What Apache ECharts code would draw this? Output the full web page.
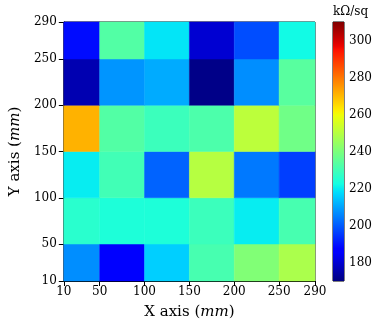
<!DOCTYPE html>
<html>
<head>
<meta charset="utf-8">
<script src="https://cdn.jsdelivr.net/npm/echarts@6/dist/echarts.min.js"></script>
<style>
  html, body { margin: 0; padding: 0; background: #fff; }
  #chart { width: 382px; height: 327px; }
</style>
</head>
<body>
<div id="chart"></div>
<script>
// cell edges (mm)
var xEdges = [10, 50, 100, 150, 200, 250, 290];
var yEdges = [10, 50, 100, 150, 200, 250, 290];
var xTicks = [10, 50, 100, 150, 200, 250, 290];
var yTicks = [10, 50, 100, 150, 200, 250, 290];
var cbarTicks = [180, 200, 220, 240, 260, 280, 300];
var vMin = 170;
var vMax = 310;

// sheet resistance, rows listed from bottom (y 10-50) to top (y 250-290)
var row10 = [207, 187, 216, 231, 241, 248];
var row50 = [226, 224, 224, 229, 220, 231];
var row100 = [220, 230, 201, 250, 204, 196];
var row150 = [271, 233, 229, 232, 251, 238];
var row200 = [176, 208, 211, 171, 207, 234];
var row250 = [189, 233, 219, 180, 198, 222];
var rows = [row10, row50, row100, row150, row200, row250];

// matplotlib jet
function seg(pts, t) {
  for (var i = 1; i < pts.length; i++) {
    if (t <= pts[i][0]) {
      var a = pts[i - 1], b = pts[i];
      return a[1] + (b[1] - a[1]) * (t - a[0]) / (b[0] - a[0]);
    }
  }
  return pts[pts.length - 1][1];
}
function jet(t) {
  var r = seg([[0, 0], [0.35, 0], [0.66, 1], [0.89, 1], [1, 0.5]], t);
  var g = seg([[0, 0], [0.125, 0], [0.375, 1], [0.64, 1], [0.91, 0], [1, 0]], t);
  var b = seg([[0, 0.5], [0.11, 1], [0.34, 1], [0.65, 0], [1, 0]], t);
  return 'rgb(' + Math.round(r * 255) + ',' + Math.round(g * 255) + ',' + Math.round(b * 255) + ')';
}
var jetColors = [];
var jetStops = [];
for (var k = 0; k <= 64; k++) {
  jetColors.push(jet(k / 64));
  jetStops.push({ offset: k / 64, color: jet(k / 64) });
}

var cells = [];
rows.forEach(function (row, j) {
  row.forEach(function (v, i) {
    cells.push([xEdges[i], xEdges[i + 1], yEdges[j], yEdges[j + 1], v]);
  });
});

var font = 'DejaVu Serif';
var chart = echarts.init(document.getElementById('chart'), null, { renderer: 'canvas' });

chart.setOption({
  animation: false,
  textStyle: { fontFamily: font },
  grid: [
    { left: 56, right: 67, top: 22, bottom: 46, show: true, borderColor: '#000', borderWidth: 1 },
    { left: 333, width: 11, top: 22, bottom: 46, show: true, borderColor: '#000', borderWidth: 1 }
  ],
  xAxis: [
    {
      type: 'value', gridIndex: 0, min: 10, max: 290,
      name: 'X axis ({i|mm})', nameLocation: 'middle', nameGap: 24,
      nameTextStyle: { fontFamily: font, fontSize: 15, color: '#000', rich: { i: { fontFamily: font, fontSize: 15, fontStyle: 'italic', color: '#000' } } },
      axisLine: { show: true, lineStyle: { color: '#000', width: 1 } },
      axisTick: { show: true, length: 5, customValues: xTicks, lineStyle: { color: '#000' } },
      axisLabel: { customValues: xTicks, margin: 5, fontFamily: font, fontSize: 12, color: '#000' },
      splitLine: { show: false }
    },
    {
      type: 'value', gridIndex: 1, min: 0, max: 1, show: false
    }
  ],
  yAxis: [
    {
      type: 'value', gridIndex: 0, min: 10, max: 290,
      name: 'Y axis ({i|mm})', nameLocation: 'middle', nameGap: 36,
      nameTextStyle: { fontFamily: font, fontSize: 15, color: '#000', rich: { i: { fontFamily: font, fontSize: 15, fontStyle: 'italic', color: '#000' } } },
      axisLine: { show: true, lineStyle: { color: '#000', width: 1 } },
      axisTick: { show: true, length: 5, customValues: yTicks, lineStyle: { color: '#000' } },
      axisLabel: { customValues: yTicks, margin: 7, fontFamily: font, fontSize: 12, color: '#000' },
      splitLine: { show: false }
    },
    {
      type: 'value', gridIndex: 1, min: vMin, max: vMax, position: 'right',
      axisLine: { show: false },
      axisTick: { show: true, length: 3, customValues: cbarTicks, lineStyle: { color: '#000' } },
      axisLabel: { customValues: cbarTicks, margin: 5, fontFamily: font, fontSize: 12, color: '#000' },
      splitLine: { show: false }
    }
  ],
  visualMap: {
    show: false, type: 'continuous', seriesIndex: 0, dimension: 4,
    min: vMin, max: vMax, inRange: { color: jetColors }
  },
  graphic: [
    {
      type: 'text', left: 333, top: 6,
      style: { text: 'kΩ/sq', fontFamily: font, fontSize: 12, fill: '#000' }
    }
  ],
  series: [
    {
      type: 'custom', xAxisIndex: 0, yAxisIndex: 0,
      data: cells,
      renderItem: function (params, api) {
        var p0 = api.coord([api.value(0), api.value(3)]);
        var p1 = api.coord([api.value(1), api.value(2)]);
        return {
          type: 'rect',
          shape: { x: p0[0], y: p0[1], width: p1[0] - p0[0], height: p1[1] - p0[1] },
          style: { fill: api.visual('color'), stroke: api.visual('color'), lineWidth: 0.5 }
        };
      },
      z: 1
    },
    {
      type: 'custom', xAxisIndex: 1, yAxisIndex: 1,
      data: [[0, 1, vMin, vMax]],
      renderItem: function (params, api) {
        var p0 = api.coord([api.value(0), api.value(3)]);
        var p1 = api.coord([api.value(1), api.value(2)]);
        return {
          type: 'rect',
          shape: { x: p0[0], y: p0[1], width: p1[0] - p0[0], height: p1[1] - p0[1] },
          style: { fill: new echarts.graphic.LinearGradient(0, 1, 0, 0, jetStops) }
        };
      },
      z: 1
    }
  ]
});
</script>
</body>
</html>
